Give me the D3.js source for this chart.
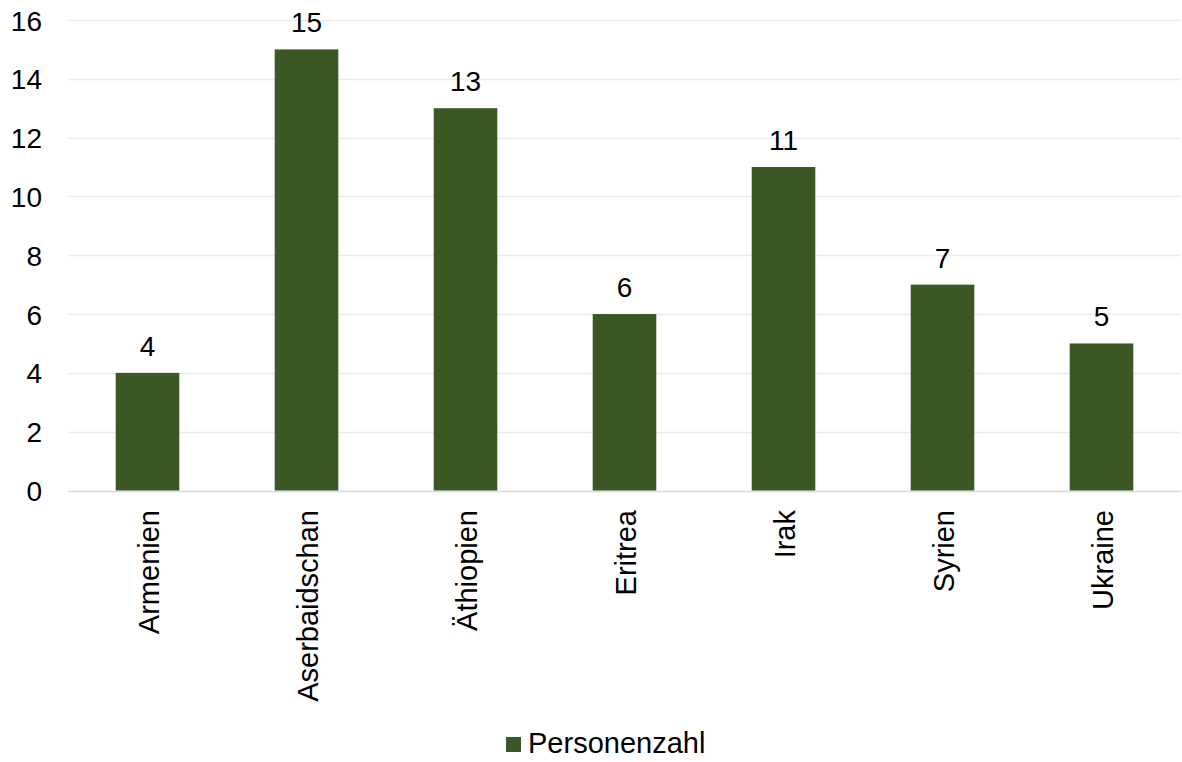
<!DOCTYPE html>
<html><head><meta charset="utf-8">
<script src="https://cdn.jsdelivr.net/npm/d3@7"></script>
<style>body{margin:0;background:#fff}svg{display:block}text{font-family:"Liberation Sans",Arial,sans-serif;fill:#000}</style>
</head><body><svg id="c" width="1182" height="762"></svg>
<script>
const categories = ["Armenien","Aserbaidschan","Äthiopien","Eritrea","Irak","Syrien","Ukraine"];
const values = [4,15,13,6,11,7,5];
const yTicks = [0,2,4,6,8,10,12,14,16];
const seriesName = "Personenzahl";
const color = "#3b5723";

(function(){
const svg = d3.select("#c");
const fsNum = 28, fsText = 29;
const mLeft = 68, mRight = 1181, mTop = 20, mBottom = 490.5;
const x = d3.scaleBand().domain(categories).range([mLeft, mRight]).paddingInner(0.6).paddingOuter(0.3);
const y = d3.scaleLinear().domain([0,16]).range([mBottom, mTop]);

const grid = svg.append("g");
grid.selectAll("line").data(yTicks).join("line")
  .attr("x1", mLeft).attr("x2", mRight)
  .attr("y1", d => Math.round(y(d))+0.5).attr("y2", d => Math.round(y(d))+0.5)
  .attr("stroke", d => d===0 ? "#d9d9d9" : "#ececec").attr("stroke-width", 1.5);

const yAxis = svg.append("g").attr("transform", `translate(${mLeft},0)`)
  .call(d3.axisLeft(y).tickValues(yTicks).tickSize(0).tickPadding(26));
yAxis.select(".domain").remove();
yAxis.selectAll("text").attr("font-size", fsNum).attr("dy","0.36em").style("font-family", '"Liberation Sans",Arial,sans-serif').attr("fill","#000");

svg.append("g").selectAll("rect").data(values).join("rect")
  .attr("x", (d,i) => x(categories[i])).attr("width", x.bandwidth())
  .attr("y", d => y(d)).attr("height", d => mBottom - y(d)).attr("fill", color);

svg.append("g").selectAll("text").data(values).join("text")
  .attr("x", (d,i) => x(categories[i]) + x.bandwidth()/2)
  .attr("y", d => y(d) - 17).attr("text-anchor","middle").attr("font-size", fsNum).text(d => d);

svg.append("g").selectAll("text").data(categories).join("text")
  .attr("transform", d => `translate(${x(d)+x.bandwidth()/2+11},510) rotate(-90)`)
  .attr("text-anchor","end").attr("font-size", fsText).text(d => d);

const lg = svg.append("g").attr("transform","translate(506,737)");
lg.append("rect").attr("width",15).attr("height",15).attr("fill",color);
lg.append("text").attr("x",22).attr("y",16).attr("font-size",fsText).text(seriesName);
})();
</script></body></html>
